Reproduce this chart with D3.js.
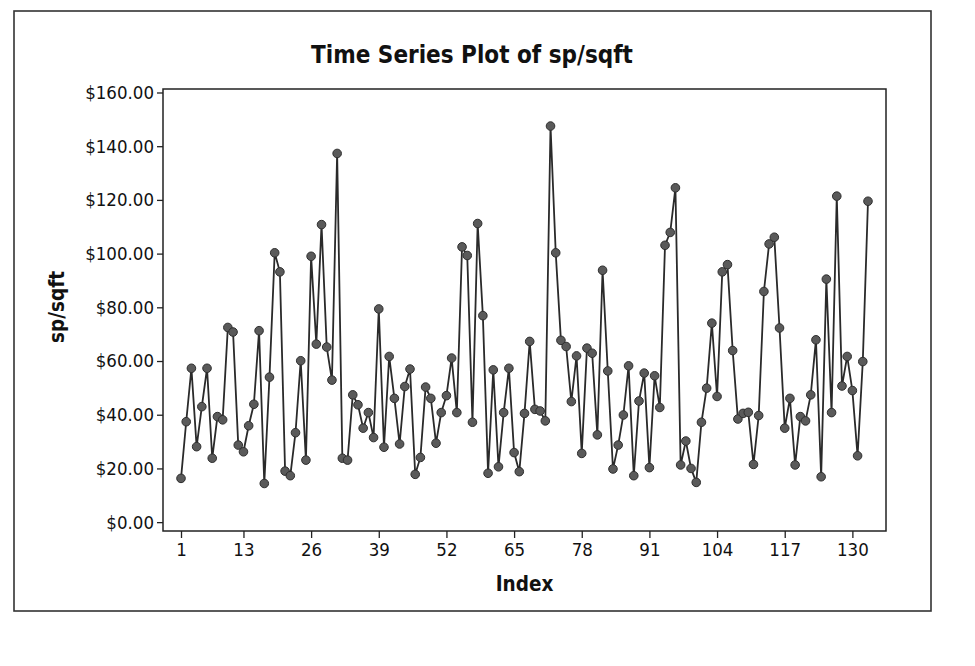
<!DOCTYPE html>
<html lang="en">
<head>
<meta charset="UTF-8">
<title>Time Series Plot of sp/sqft</title>
<script src="https://d3js.org/d3.v7.min.js"></script>
<style>
    body { margin: 0; background: #fff; }
    svg text { font-family: 'DejaVu Sans Condensed', 'DejaVu Sans', sans-serif; font-stretch: condensed; fill: #111; }
    .axis path, .axis line { stroke: #222; stroke-width: 1.3; }
    .axis text { font-size: 18.5px; }
</style>
</head>
<body>
<svg id="chart"></svg>
<script>
    // sp/sqft values by index (1..133)
    const spSqft = [
        16.3, 37.4, 57.3, 28.1, 43.0, 57.3, 23.8, 39.3, 38.1, 72.5,
        70.8, 28.7, 26.2, 35.9, 43.9, 71.3, 14.4, 54.0, 100.3, 93.2,
        19.0, 17.3, 33.3, 60.1, 23.1, 99.0, 66.3, 110.8, 65.2, 52.9,
        137.3, 23.8, 23.1, 47.4, 43.7, 35.0, 40.8, 31.5, 79.4, 27.9,
        61.7, 46.1, 29.1, 50.5, 57.0, 17.8, 24.1, 50.3, 46.1, 29.4,
        40.8, 47.1, 61.1, 40.8, 102.5, 99.3, 37.2, 111.2, 76.9, 18.2,
        56.7, 20.6, 40.8, 57.3, 25.9, 18.8, 40.5, 67.3, 42.0, 41.4,
        37.7, 147.5, 100.3, 67.7, 65.4, 44.9, 61.9, 25.6, 64.8, 62.9,
        32.5, 93.8, 56.3, 19.8, 28.7, 39.9, 58.2, 17.3, 45.1, 55.5,
        20.3, 54.5, 42.7, 103.1, 107.9, 124.5, 21.3, 30.2, 20.0, 14.8,
        37.2, 49.9, 74.1, 46.8, 93.2, 95.9, 63.9, 38.4, 40.5, 40.9,
        21.5, 39.7, 85.9, 103.6, 106.1, 72.3, 35.0, 46.1, 21.3, 39.3,
        37.7, 47.4, 67.9, 16.9, 90.5, 40.8, 121.4, 50.7, 61.7, 49.0,
        24.7, 59.8, 119.5
    ];
    const xTicks = [1, 13, 26, 39, 52, 65, 78, 91, 104, 117, 130];
    const yTicks = [0, 20, 40, 60, 80, 100, 120, 140, 160];

    const data = spSqft.map((v, i) => ({ index: i + 1, value: v }));

    const W = 975, H = 666;
    const margin = { top: 89, right: 89, bottom: 135, left: 163 },
        width = W - margin.left - margin.right,
        height = H - margin.top - margin.bottom;

    const svg = d3.select("#chart")
        .attr("width", W)
        .attr("height", H);

    // outer frame
    svg.append("rect")
        .attr("x", 14).attr("y", 11)
        .attr("width", 917).attr("height", 600)
        .attr("fill", "#fff")
        .attr("stroke", "#333")
        .attr("stroke-width", 1.6);

    const g = svg.append("g")
        .attr("transform", "translate(" + margin.left + "," + margin.top + ")");

    const x = d3.scaleLinear()
        .domain([-2.46, 136.46])
        .range([0, width]);

    const y = d3.scaleLinear()
        .domain([-3.3, 161.3])
        .range([height, 0]);

    // plot box
    g.append("rect")
        .attr("width", width)
        .attr("height", height)
        .attr("fill", "#fff")
        .attr("stroke", "#222")
        .attr("stroke-width", 1.5);

    // X-axis
    g.append("g")
        .attr("class", "axis")
        .attr("transform", "translate(0," + height + ")")
        .call(d3.axisBottom(x).tickValues(xTicks).tickSize(7).tickPadding(5).tickSizeOuter(0))
        .call(a => a.select(".domain").remove());

    // Y-axis
    g.append("g")
        .attr("class", "axis")
        .call(d3.axisLeft(y).tickValues(yTicks).tickSize(6).tickPadding(3)
            .tickFormat(d => "$" + d3.format(".2f")(d)))
        .call(a => a.select(".domain").remove());

    // title
    svg.append("text")
        .attr("x", 472).attr("y", 63)
        .attr("text-anchor", "middle")
        .style("font-size", "24px")
        .style("font-weight", "bold")
        .text("Time Series Plot of sp/sqft");

    // X-axis title
    svg.append("text")
        .attr("x", margin.left + width / 2).attr("y", 591)
        .attr("text-anchor", "middle")
        .style("font-size", "20.5px")
        .style("font-weight", "bold")
        .text("Index");

    // Y-axis title
    svg.append("text")
        .attr("transform", "translate(64," + (margin.top + height / 2 - 3) + ") rotate(-90)")
        .attr("text-anchor", "middle")
        .style("font-size", "20.5px")
        .style("font-weight", "bold")
        .text("sp/sqft");

    // series line
    const line = d3.line()
        .x(d => x(d.index))
        .y(d => y(d.value));

    g.append("path")
        .datum(data)
        .attr("fill", "none")
        .attr("stroke", "#2a2a2a")
        .attr("stroke-width", 1.8)
        .attr("d", line);

    // data points
    g.selectAll(".dot")
        .data(data)
        .enter().append("circle")
        .attr("class", "dot")
        .attr("r", 4.3)
        .attr("cx", d => x(d.index))
        .attr("cy", d => y(d.value))
        .attr("fill", "#5a5a5a")
        .attr("stroke", "#2e2e2e")
        .attr("stroke-width", 1);
</script>
</body>
</html>
